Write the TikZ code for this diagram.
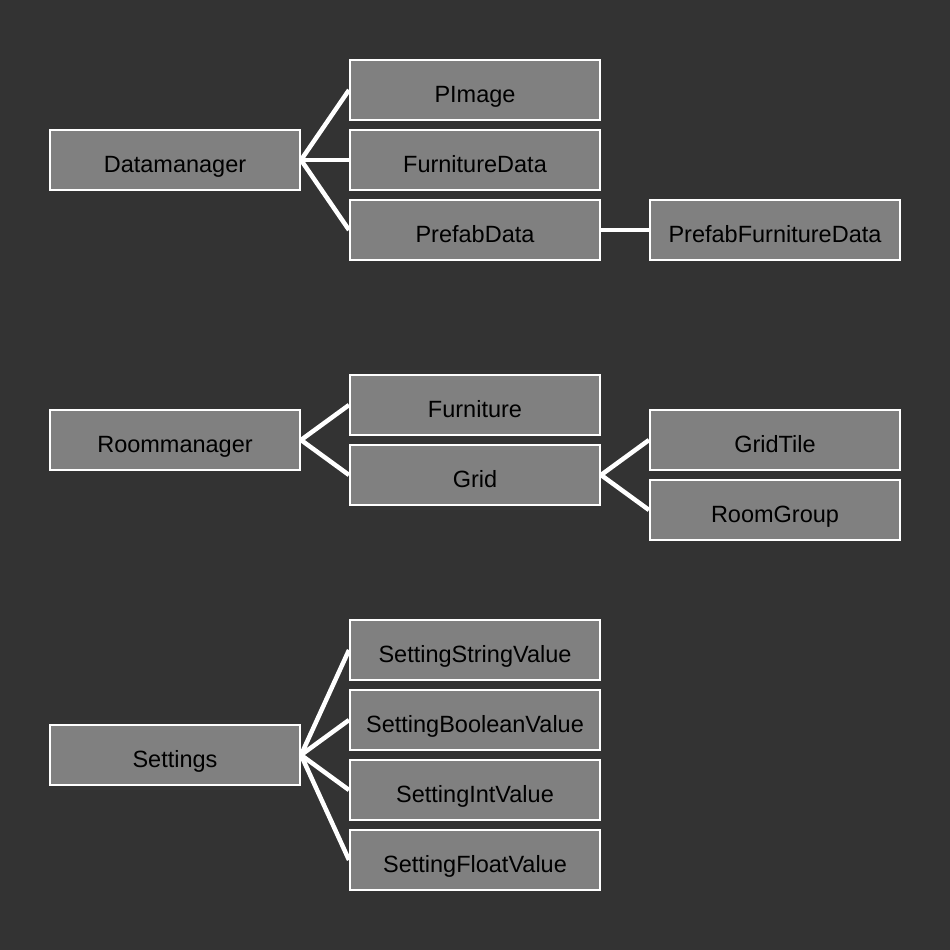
\documentclass[tikz,border=0pt]{standalone}
\usepackage{fontspec}
\setmainfont{Liberation Sans}
\definecolor{bgdark}{HTML}{333333}
\definecolor{boxgray}{HTML}{808080}
\tikzset{
  cls/.style={draw=white,line width=2pt,fill=boxgray,minimum width=250pt,minimum height=60pt,
    inner sep=0pt,font=\fontsize{23.5pt}{26pt}\selectfont,text=black,text height=24pt,text depth=0pt},
  link/.style={draw=white,line width=4.5pt}
}
\begin{document}
\begin{tikzpicture}[x=1pt,y=-1pt]
% background
\fill[bgdark] (0,0) rectangle (950,950);
\useasboundingbox (0,0) rectangle (950,950);

% Datamanager group
\node[cls] (dm) at (175,160) {Datamanager};
\node[cls] (pimage) at (475,90) {PImage};
\node[cls] (furndata) at (475,160) {FurnitureData};
\node[cls] (prefab) at (475,230) {PrefabData};
\node[cls] (prefabfurn) at (775,230) {PrefabFurnitureData};
\foreach \child in {pimage,furndata,prefab}
  \draw[link] (dm.east) -- (\child.west);
\draw[link] (prefab.east) -- (prefabfurn.west);

% Roommanager group
\node[cls] (rm) at (175,440) {Roommanager};
\node[cls] (furn) at (475,405) {Furniture};
\node[cls] (grid) at (475,475) {Grid};
\node[cls] (tile) at (775,440) {GridTile};
\node[cls] (roomgrp) at (775,510) {RoomGroup};
\foreach \child in {furn,grid}
  \draw[link] (rm.east) -- (\child.west);
\foreach \child in {tile,roomgrp}
  \draw[link] (grid.east) -- (\child.west);

% Settings group
\node[cls] (set) at (175,755) {Settings};
\node[cls] (setstr) at (475,650) {SettingStringValue};
\node[cls] (setbool) at (475,720) {SettingBooleanValue};
\node[cls] (setint) at (475,790) {SettingIntValue};
\node[cls] (setfloat) at (475,860) {SettingFloatValue};
\foreach \child in {setstr,setbool,setint,setfloat}
  \draw[link] (set.east) -- (\child.west);
\end{tikzpicture}
\end{document}
